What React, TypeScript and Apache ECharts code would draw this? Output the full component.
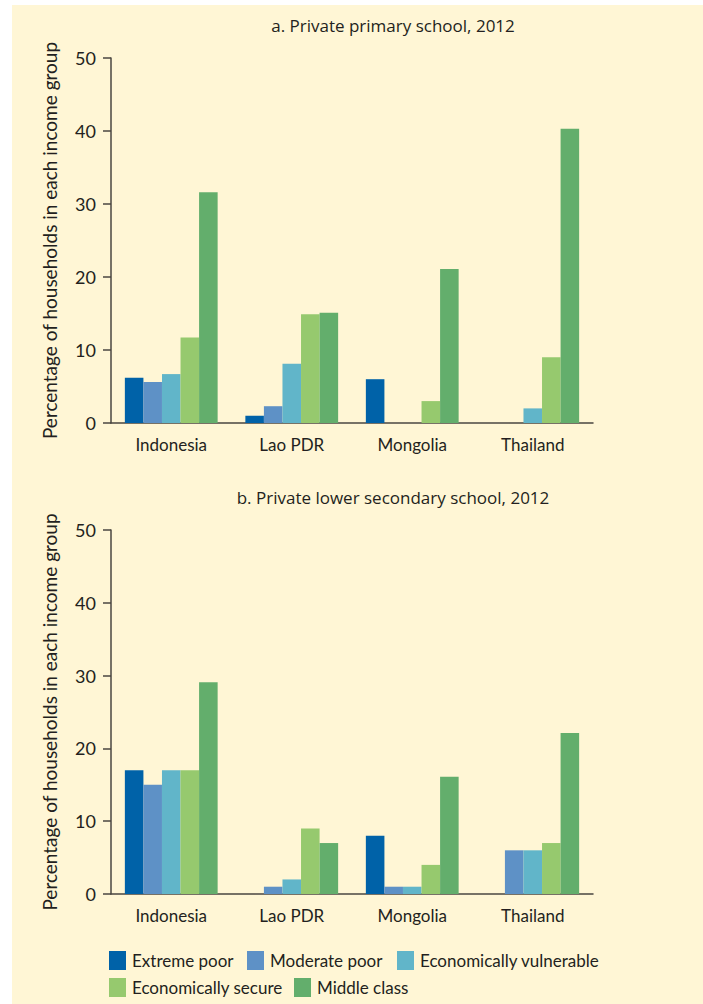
import React, { useEffect, useRef } from "react";
import * as echarts from "echarts";

const categories = ["Indonesia", "Lao PDR", "Mongolia", "Thailand"];
const groups = ["Extreme poor", "Moderate poor", "Economically vulnerable", "Economically secure", "Middle class"];
const groupColors = ["#0062a8", "#5e91c6", "#61b5c9", "#96c96e", "#63ae6c"];
const yTicks = [0, 10, 20, 30, 40, 50];

const primaryExtreme = [6.2, 1.0, 6.0, 0];
const primaryModerate = [5.6, 2.3, 0, 0];
const primaryVulnerable = [6.7, 8.1, 0, 2.0];
const primarySecure = [11.7, 14.9, 3.0, 9.0];
const primaryMiddle = [31.6, 15.1, 21.1, 40.3];

const secondaryExtreme = [17.0, 0, 8.0, 0];
const secondaryModerate = [15.0, 1.0, 1.0, 6.0];
const secondaryVulnerable = [17.0, 2.0, 1.0, 6.0];
const secondarySecure = [17.0, 9.0, 4.0, 7.0];
const secondaryMiddle = [29.1, 7.0, 16.1, 22.1];

const titleA = "a. Private primary school, 2012";
const titleB = "b. Private lower secondary school, 2012";
const yName = "Percentage of households in each income group";

const FONT = "'Open Sans', sans-serif";
const FONT2 = "Lato, 'Open Sans', sans-serif";
const TXT = "#231f20";
const AX = "#4a4640";

export default function App() {
  const ref = useRef<HTMLDivElement>(null);
  useEffect(() => {
    if (!ref.current) return;
    const chart = echarts.init(ref.current, null, { renderer: "svg" });
    const primary = [primaryExtreme, primaryModerate, primaryVulnerable, primarySecure, primaryMiddle];
    const secondary = [secondaryExtreme, secondaryModerate, secondaryVulnerable, secondarySecure, secondaryMiddle];

    const grids = [
      { left: 111, width: 482, top: 58, height: 365 },
      { left: 111, width: 482, top: 530, height: 364 },
    ];
    const xAxes = grids.map((_, i) => ({
      type: "category",
      gridIndex: i,
      data: categories,
      axisLine: { lineStyle: { color: AX, width: 1.5 } },
      axisTick: { length: 7, lineStyle: { color: AX, width: 1.5 } },
      axisLabel: { color: TXT, fontSize: 17, fontFamily: FONT2, margin: 13 },
    }));
    const yAxes = grids.map((_, i) => ({
      type: "value",
      gridIndex: i,
      min: 0,
      max: 50,
      interval: 10,
      name: yName,
      nameLocation: "middle",
      nameGap: 52,
      nameTextStyle: { color: TXT, fontSize: 19, fontFamily: FONT2 },
      axisLine: { show: true, lineStyle: { color: AX, width: 1.5 } },
      axisTick: { show: true, length: 8, lineStyle: { color: AX, width: 1.5 } },
      splitLine: { show: false },
      axisLabel: {
        color: TXT,
        fontSize: 18,
        fontFamily: FONT2,
        margin: 15,
        formatter: (v: number) => (yTicks.includes(v) ? String(v) : ""),
      },
    }));
    const series: any[] = [];
    [primary, secondary].forEach((set, gi) => {
      set.forEach((vals, k) => {
        series.push({
          type: "bar",
          name: groups[k],
          xAxisIndex: gi,
          yAxisIndex: gi,
          data: vals,
          barGap: "0%",
          barCategoryGap: "23%",
          itemStyle: { color: groupColors[k] },
        });
      });
    });

    const legendPos = [
      { left: 109, top: 951 },
      { left: 247, top: 951 },
      { left: 397, top: 951 },
      { left: 109, top: 978 },
      { left: 294, top: 978 },
    ];
    const legends = groups.map((g, k) => ({
      data: [g],
      left: legendPos[k].left,
      top: legendPos[k].top,
      padding: 0,
      itemWidth: 17,
      itemHeight: 19,
      itemGap: 0,
      icon: "rect",
      selectedMode: false,
      textStyle: { color: TXT, fontSize: 17, fontFamily: FONT2, padding: [0, 0, 0, 1] },
    }));

    chart.setOption({
      animation: false,
      backgroundColor: "transparent",
      title: [
        { text: titleA, left: 388, top: 12, textAlign: "center", textStyle: { color: TXT, fontSize: 17, fontWeight: "normal", fontFamily: FONT } },
        { text: titleB, left: 388, top: 484, textAlign: "center", textStyle: { color: TXT, fontSize: 17, fontWeight: "normal", fontFamily: FONT } },
      ],
      grid: grids,
      xAxis: xAxes,
      yAxis: yAxes,
      legend: legends,
      series,
    });
    return () => chart.dispose();
  }, []);

  return (
    <div style={{ position: "fixed", left: 0, top: 0, width: 703, height: 1004, background: "#ffffff" }}>
      <div style={{ position: "absolute", left: 12, top: 5, right: 0, bottom: 0, background: "#fff6d5" }} />
      <div ref={ref} style={{ position: "absolute", left: 0, top: 0, width: 703, height: 1004 }} />
    </div>
  );
}
